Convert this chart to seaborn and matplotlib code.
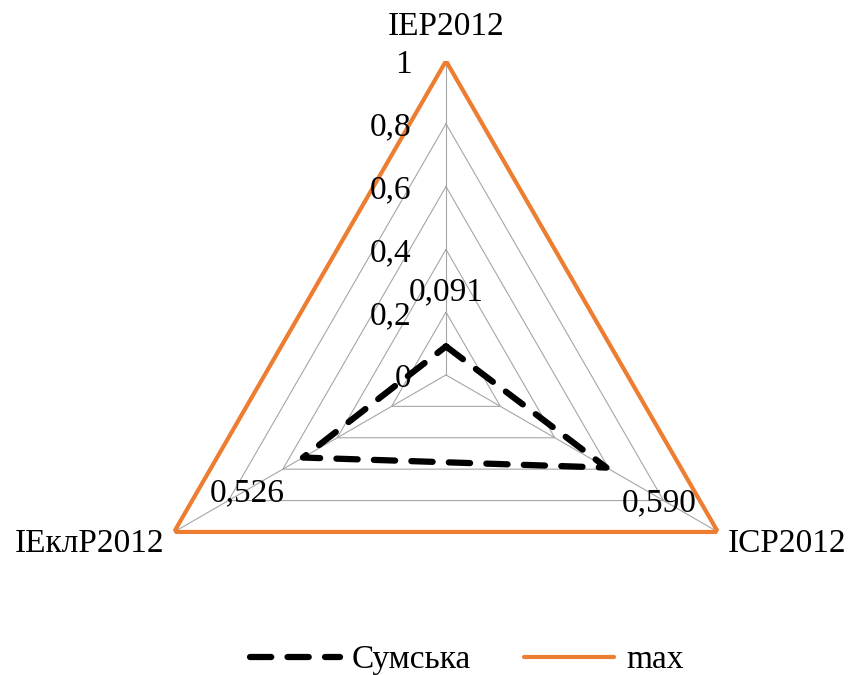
import numpy as np
import pandas as pd
import matplotlib
matplotlib.use("Agg")
import matplotlib.pyplot as plt
import seaborn as sns

# Categories (axes of the radar) and series values
categories = ["IEP2012", "ICP2012", "IEклP2012"]
sumska = [0.091, 0.590, 0.526]
max_values = [1, 1, 1]
series_names = ["Сумська", "max"]
value_labels = ["0,091", "0,590", "0,526"]
r_ticks = [0, 0.2, 0.4, 0.6, 0.8, 1]
r_tick_labels = ["0", "0,2", "0,4", "0,6", "0,8", "1"]

sns.set_theme(style="white")
plt.rcParams["font.family"] = ["Liberation Serif", "DejaVu Serif"]
plt.rcParams["font.size"] = 24
plt.rcParams["text.color"] = "black"

ORANGE = "#ED7D31"
GRID = "#a6a6a6"

fig = plt.figure(figsize=(8.5, 6.75), dpi=100)
ax = fig.add_axes([0.1553, -0.0207, 0.7388, 0.9304], projection="polar")
ax.set_theta_offset(np.pi / 2)
ax.set_theta_direction(-1)
ax.set_ylim(0, 1)
ax.grid(False)
ax.spines["polar"].set_visible(False)
ax.set_xticks([])
ax.set_yticks([])
ax.patch.set_alpha(0)

n = len(categories)
theta = np.arange(n) * 2 * np.pi / n
theta_closed = np.append(theta, theta[0])

# Triangular grid rings and spokes
for r in r_ticks[1:]:
    ax.plot(theta_closed, [r] * (n + 1), color=GRID, lw=0.8, zorder=1)
for t in theta:
    ax.plot([t, t], [0, 1], color=GRID, lw=0.8, zorder=1)

# Series (closed polygons)
d_s = pd.DataFrame({"theta": theta_closed, "value": np.append(sumska, sumska[0])})
d_m = pd.DataFrame({"theta": theta_closed, "value": np.append(max_values, max_values[0])})
sns.lineplot(data=d_m, x="theta", y="value", sort=False, estimator=None,
             color=ORANGE, lw=3.0, ax=ax, zorder=3, label=series_names[1])
sns.lineplot(data=d_s, x="theta", y="value", sort=False, estimator=None,
             color="black", lw=4.5, linestyle=(0, (3.4, 2.6)),
             dash_capstyle="round", solid_joinstyle="round",
             ax=ax, zorder=4, label=series_names[0])
ax.set_xlabel("")
ax.set_ylabel("")
ax.get_legend().remove()

# Radial tick labels along the top axis
for r, lab in zip(r_ticks, r_tick_labels):
    ax.annotate(lab, xy=(0, r), xytext=(-25, 0), textcoords="offset points",
                ha="right", va="center_baseline", fontsize=24, zorder=5)

# Category labels
cat_offsets = [((0, 14), "center", "bottom"),
               ((7, -6), "left", "center_baseline"),
               ((-7, -6), "right", "center_baseline")]
for t, lab, (off, ha, va) in zip(theta, categories, cat_offsets):
    ax.annotate(lab, xy=(t, 1), xytext=off, textcoords="offset points",
                ha=ha, va=va, fontsize=24, annotation_clip=False)

# Value labels for the Сумська series
val_offsets = [(0, 42), (38, -23), (-40, -23)]
for t, v, lab, off in zip(theta, sumska, value_labels, val_offsets):
    ax.annotate(lab, xy=(t, v), xytext=off, textcoords="offset points",
                ha="center", va="center_baseline", fontsize=24, zorder=5)

by_label = {line.get_label(): line for line in ax.get_lines()}
handles = [by_label[s] for s in series_names]
fig.legend(handles, series_names, loc="center", bbox_to_anchor=(0.549, 0.022),
           ncol=2, frameon=False, fontsize=24, handlelength=2.7,
           handletextpad=0.35, columnspacing=1.6)

fig.savefig("out.png", dpi=100)
